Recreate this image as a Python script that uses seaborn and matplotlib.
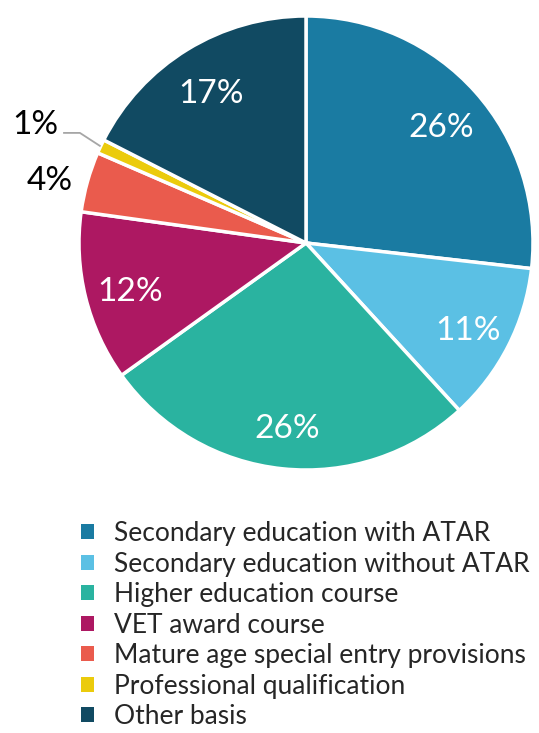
import numpy as np
import matplotlib
matplotlib.use("Agg")
import matplotlib.pyplot as plt
import matplotlib.patches as mpatches
import seaborn as sns

categories = ["Secondary education with ATAR", "Secondary education without ATAR",
              "Higher education course", "VET award course",
              "Mature age special entry provisions", "Professional qualification",
              "Other basis"]
values = [26.8, 11.4, 26.9, 12.1, 4.3, 1.0, 17.5]
pct_labels = ["26%", "11%", "26%", "12%", "4%", "1%", "17%"]
colors_hex = ["#1a7ba2", "#5bc0e4", "#2ab3a0", "#ad1862", "#ea5b4d", "#ebcb0c", "#114a62"]

sns.set_theme(style="white")
plt.rcParams['font.family'] = ['Lato', 'DejaVu Sans']
palette = sns.color_palette(colors_hex)

W, H = 539, 733
fig = plt.figure(figsize=(W / 100, H / 100), dpi=100)
cx, cy, R = 306, 243, 227
ax = fig.add_axes([(cx - R) / W, (H - cy - R) / H, 2 * R / W, 2 * R / H])

wedges, _ = ax.pie(values, colors=palette, startangle=90, counterclock=False,
                   radius=1, wedgeprops=dict(edgecolor="white", linewidth=2.5))
ax.set_xlim(-1, 1)
ax.set_ylim(-1, 1)
ax.set_aspect("equal")
ax.axis("off")

fs = 24
for i, w in enumerate(wedges):
    ang = np.deg2rad((w.theta1 + w.theta2) / 2)
    x, y = np.cos(ang), np.sin(ang)
    if values[i] >= 8:
        r = 0.80
        ax.text(r * x, r * y - 0.025, pct_labels[i], ha="center", va="center",
                color="white", fontsize=fs)
    elif i == 4:
        ax.text(-1.13, 0.275, pct_labels[i], ha="center", va="center",
                color="black", fontsize=fs)
    else:
        ax.text(-1.19, 0.52, pct_labels[i], ha="center", va="center",
                color="black", fontsize=fs)
        ax.plot([-1.07, -0.996, x], [0.485, 0.485, y], color="#a6a6a6",
                lw=1.3, clip_on=False, solid_capstyle="butt")

handles = [mpatches.Patch(facecolor=palette[i], edgecolor="none", label=categories[i])
           for i in range(len(categories))]
fig.legend(handles=handles, loc="upper left", bbox_to_anchor=(81 / W, 1 - 521 / H),
           frameon=False, fontsize=19, handlelength=0.5, handleheight=0.5,
           handletextpad=0.75, labelspacing=0.21, borderpad=0, borderaxespad=0)

fig.savefig("out.png", dpi=100)
